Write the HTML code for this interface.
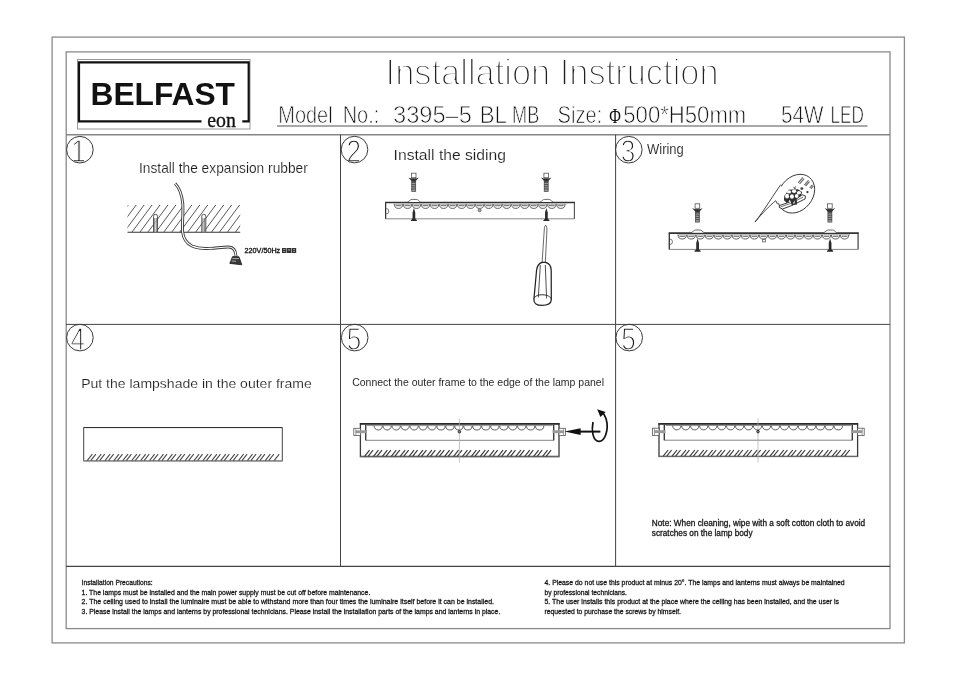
<!DOCTYPE html>
<html><head><meta charset="utf-8"><title>Installation Instruction</title>
<style>
html,body{margin:0;padding:0;background:#fff;}
body{width:959px;height:677px;overflow:hidden;font-family:"Liberation Sans",sans-serif;}
svg{display:block;position:absolute;left:0;top:0;will-change:transform;filter:grayscale(1);}
svg text{font-family:"Liberation Sans",sans-serif;}
svg text.serif{font-family:"Liberation Serif",serif;}
</style></head><body>
<svg width="959" height="677" viewBox="0 0 959 677">
<rect width="959" height="677" fill="#fff"/>
<rect x="52.1" y="37.1" width="852.3" height="605.8" fill="none" stroke="#8a8a8a" stroke-width="1.3"/>
<rect x="66.2" y="51.9" width="823.8" height="576.7" fill="none" stroke="#8a8a8a" stroke-width="1.3"/>
<line x1="66" y1="134.7" x2="890" y2="134.7" stroke="#858585" stroke-width="1.6"/>
<line x1="66" y1="324.4" x2="890" y2="324.4" stroke="#444" stroke-width="1"/>
<line x1="66" y1="566.4" x2="890" y2="566.4" stroke="#444" stroke-width="1.2"/>
<line x1="340.5" y1="134.6" x2="340.5" y2="566.4" stroke="#444" stroke-width="1"/>
<line x1="615.6" y1="134.6" x2="615.6" y2="566.4" stroke="#444" stroke-width="1"/>
<rect x="77.5" y="59.5" width="172.5" height="69.5" fill="none" stroke="#999" stroke-width="1"/>
<path d="M201.5 121.3 H79 V62.3 H248.7 V121.3 H242.3" fill="none" stroke="#111" stroke-width="2.2"/>
<text x="90.5" y="105" font-family="Liberation Sans" font-weight="bold" font-size="30.5" textLength="144.5" lengthAdjust="spacingAndGlyphs" fill="#111">BELFAST</text>
<text x="207.2" y="126.5" class="serif" font-size="21.3" stroke="#111" stroke-width="0.35" textLength="28.6" lengthAdjust="spacingAndGlyphs" fill="#111">eon</text>
<text x="385.6" y="85.2" font-size="36.2" textLength="333" lengthAdjust="spacingAndGlyphs" stroke="#fff" stroke-width="1.8" fill="#222" font-weight="normal" text-anchor="start">Installation Instruction</text>
<text x="278.3" y="123.2" font-size="24.5" textLength="54.3" lengthAdjust="spacingAndGlyphs" stroke="#fff" stroke-width="0.75" fill="#141414" font-weight="normal" text-anchor="start">Model</text>
<text x="342.7" y="123.2" font-size="24.5" textLength="36.6" lengthAdjust="spacingAndGlyphs" stroke="#fff" stroke-width="0.75" fill="#141414" font-weight="normal" text-anchor="start">No.:</text>
<text x="393.0" y="123.2" font-size="24.5" textLength="78.9" lengthAdjust="spacingAndGlyphs" stroke="#fff" stroke-width="0.75" fill="#141414" font-weight="normal" text-anchor="start">3395–5</text>
<text x="479.7" y="123.2" font-size="24.5" textLength="27.2" lengthAdjust="spacingAndGlyphs" stroke="#fff" stroke-width="0.75" fill="#141414" font-weight="normal" text-anchor="start">BL</text>
<text x="512.1" y="123.2" font-size="24.5" textLength="27.2" lengthAdjust="spacingAndGlyphs" stroke="#fff" stroke-width="0.75" fill="#141414" font-weight="normal" text-anchor="start">MB</text>
<text x="557.6" y="123.2" font-size="24.5" textLength="44.6" lengthAdjust="spacingAndGlyphs" stroke="#fff" stroke-width="0.75" fill="#141414" font-weight="normal" text-anchor="start">Size:</text>
<text x="623.3" y="123.2" font-size="24.5" textLength="123.0" lengthAdjust="spacingAndGlyphs" stroke="#fff" stroke-width="0.75" fill="#141414" font-weight="normal" text-anchor="start">500*H50mm</text>
<text x="781.0" y="123.2" font-size="24.5" textLength="42.5" lengthAdjust="spacingAndGlyphs" stroke="#fff" stroke-width="0.75" fill="#141414" font-weight="normal" text-anchor="start">54W</text>
<text x="830.5" y="123.2" font-size="24.5" textLength="33.5" lengthAdjust="spacingAndGlyphs" stroke="#fff" stroke-width="0.75" fill="#141414" font-weight="normal" text-anchor="start">LED</text>
<text class="serif" x="609.3" y="122.6" font-size="21.5" textLength="11.6" lengthAdjust="spacingAndGlyphs" fill="#111">Φ</text>
<line x1="277" y1="126" x2="867.5" y2="126" stroke="#555" stroke-width="1.2"/>
<text x="139.0" y="173.2" font-size="14.3" textLength="168.8" lengthAdjust="spacingAndGlyphs" stroke="#fff" stroke-width="0.15" fill="#1e1e1e" font-weight="normal" text-anchor="start">Install the expansion rubber</text>
<text x="393.6" y="160.2" font-size="15.3" textLength="112.4" lengthAdjust="spacingAndGlyphs" stroke="#fff" stroke-width="0.15" fill="#1e1e1e" font-weight="normal" text-anchor="start">Install the siding</text>
<text x="647.0" y="154.2" font-size="14.3" textLength="36.8" lengthAdjust="spacingAndGlyphs" stroke="#fff" stroke-width="0.1" fill="#1e1e1e" font-weight="normal" text-anchor="start">Wiring</text>
<text x="81.2" y="387.5" font-size="13.6" textLength="230.6" lengthAdjust="spacingAndGlyphs" stroke="#fff" stroke-width="0.15" fill="#1e1e1e" font-weight="normal" text-anchor="start">Put the lampshade in the outer frame</text>
<text x="352.2" y="386" font-size="11.5" textLength="251.8" lengthAdjust="spacingAndGlyphs" fill="#2a2a2a" font-weight="normal" text-anchor="start">Connect the outer frame to the edge of the lamp panel</text>
<text x="651.8" y="525.6" font-size="8.8" textLength="213.4" lengthAdjust="spacingAndGlyphs" stroke="#161616" stroke-width="0.3" fill="#161616" font-weight="normal" text-anchor="start">Note: When cleaning, wipe with a soft cotton cloth to avoid</text>
<text x="651.8" y="536.4" font-size="8.8" textLength="100.7" lengthAdjust="spacingAndGlyphs" stroke="#161616" stroke-width="0.3" fill="#161616" font-weight="normal" text-anchor="start">scratches on the lamp body</text>
<text x="81.6" y="584.8" font-size="7.2" textLength="71" lengthAdjust="spacingAndGlyphs" stroke="#161616" stroke-width="0.28" fill="#161616" font-weight="normal" text-anchor="start">Installation Precautions:</text>
<text x="81.6" y="594.5" font-size="7.2" textLength="288.7" lengthAdjust="spacingAndGlyphs" stroke="#161616" stroke-width="0.28" fill="#161616" font-weight="normal" text-anchor="start">1. The lamps must be installed and the main power supply must be cut off before maintenance.</text>
<text x="81.6" y="604.4" font-size="7.2" textLength="412.4" lengthAdjust="spacingAndGlyphs" stroke="#161616" stroke-width="0.28" fill="#161616" font-weight="normal" text-anchor="start">2. The ceiling used to install the luminaire must be able to withstand more than four times the luminaire itself before it can be installed.</text>
<text x="81.6" y="614.2" font-size="7.2" textLength="418.7" lengthAdjust="spacingAndGlyphs" stroke="#161616" stroke-width="0.28" fill="#161616" font-weight="normal" text-anchor="start">3. Please install the lamps and lanterns by professional technicians. Please install the installation parts of the lamps and lanterns in place.</text>
<text x="544.5" y="584.8" font-size="7.2" textLength="300.2" lengthAdjust="spacingAndGlyphs" stroke="#161616" stroke-width="0.28" fill="#161616" font-weight="normal" text-anchor="start">4. Please do not use this product at minus 20°. The lamps and lanterns must always be maintained</text>
<text x="544.5" y="594.5" font-size="7.2" textLength="82.4" lengthAdjust="spacingAndGlyphs" stroke="#161616" stroke-width="0.28" fill="#161616" font-weight="normal" text-anchor="start">by professional technicians.</text>
<text x="544.5" y="604.4" font-size="7.2" textLength="294.5" lengthAdjust="spacingAndGlyphs" stroke="#161616" stroke-width="0.28" fill="#161616" font-weight="normal" text-anchor="start">5. The user installs this product at the place where the ceiling has been installed, and the user is</text>
<text x="544.5" y="614.2" font-size="7.2" textLength="136.5" lengthAdjust="spacingAndGlyphs" stroke="#161616" stroke-width="0.28" fill="#161616" font-weight="normal" text-anchor="start">requested to purchase the screws by himself.</text>
<text x="78.60000000000001" y="161.89999999999998" font-size="30.5" textLength="14.6" lengthAdjust="spacingAndGlyphs" text-anchor="middle" fill="#1a1a1a" stroke="#fff" stroke-width="1.3">1</text>
<circle cx="79.9" cy="149.7" r="13.3" fill="none" stroke="#3a3a3a" stroke-width="1"/>
<text x="353.8" y="161.79999999999998" font-size="30.5" textLength="14.6" lengthAdjust="spacingAndGlyphs" text-anchor="middle" fill="#1a1a1a" stroke="#fff" stroke-width="1.3">2</text>
<circle cx="354.5" cy="149.6" r="13.3" fill="none" stroke="#3a3a3a" stroke-width="1"/>
<text x="628.0999999999999" y="161.89999999999998" font-size="30.5" textLength="14.6" lengthAdjust="spacingAndGlyphs" text-anchor="middle" fill="#1a1a1a" stroke="#fff" stroke-width="1.3">3</text>
<circle cx="628.8" cy="149.7" r="13.3" fill="none" stroke="#3a3a3a" stroke-width="1"/>
<text x="77.7" y="349.8" font-size="30.5" textLength="14.6" lengthAdjust="spacingAndGlyphs" text-anchor="middle" fill="#1a1a1a" stroke="#fff" stroke-width="1.3">4</text>
<circle cx="79.9" cy="337.6" r="13.3" fill="none" stroke="#3a3a3a" stroke-width="1"/>
<text x="354.0" y="349.8" font-size="30.5" textLength="14.6" lengthAdjust="spacingAndGlyphs" text-anchor="middle" fill="#1a1a1a" stroke="#fff" stroke-width="1.3">5</text>
<circle cx="354.7" cy="337.6" r="13.3" fill="none" stroke="#3a3a3a" stroke-width="1"/>
<text x="628.5" y="349.8" font-size="30.5" textLength="14.6" lengthAdjust="spacingAndGlyphs" text-anchor="middle" fill="#1a1a1a" stroke="#fff" stroke-width="1.3">5</text>
<circle cx="629.2" cy="337.6" r="13.3" fill="none" stroke="#3a3a3a" stroke-width="1"/>
<clipPath id="c1"><rect x="127.5" y="204.8" width="112.69999999999999" height="27.5"/></clipPath>
<path clip-path="url(#c1)" d="M128.31 204.8 L107.98 232.3 M136.27 204.8 L115.94 232.3 M144.23 204.8 L123.90 232.3 M152.18 204.8 L131.85 232.3 M160.14 204.8 L139.81 232.3 M168.10 204.8 L147.77 232.3 M176.06 204.8 L155.73 232.3 M184.01 204.8 L163.68 232.3 M191.97 204.8 L171.64 232.3 M199.93 204.8 L179.60 232.3 M207.88 204.8 L187.55 232.3 M215.84 204.8 L195.51 232.3 M223.80 204.8 L203.47 232.3 M231.75 204.8 L211.42 232.3 M239.71 204.8 L219.38 232.3 M247.67 204.8 L227.34 232.3 M255.62 204.8 L235.30 232.3 M263.58 204.8 L243.25 232.3" stroke="#444" stroke-width="0.9" fill="none"/>
<line x1="127.5" y1="232.3" x2="240.2" y2="232.3" stroke="#333" stroke-width="1.1"/>
<path d="M153.5 232.3 V216.3 a2 2 0 0 1 4 0 V232.3" fill="#fff" fill-opacity="0.55" stroke="#444" stroke-width="0.9"/>
<path d="M154.7 218 V232.3 M156.3 218 V232.3" stroke="#555" stroke-width="0.7" fill="none"/>
<path d="M201.8 232.3 V216.3 a2 2 0 0 1 4 0 V232.3" fill="#fff" fill-opacity="0.55" stroke="#444" stroke-width="0.9"/>
<path d="M203.0 218 V232.3 M204.60000000000002 218 V232.3" stroke="#555" stroke-width="0.7" fill="none"/>
<path d="M175.2 183.6 C179.5 188 182 195 182.8 204 C183.4 214 182 224 182.6 231.6 C183.2 238 186 243 192 246 C198 248.6 204 248.8 210 248.4 C218 247.8 224 246.9 228.6 247 C233.2 247.1 235.8 249.5 236 256.5" fill="none" stroke="#383838" stroke-width="2.9"/>
<path d="M175.2 183.6 C179.5 188 182 195 182.8 204 C183.4 214 182 224 182.6 231.6 C183.2 238 186 243 192 246 C198 248.6 204 248.8 210 248.4 C218 247.8 224 246.9 228.6 247 C233.2 247.1 235.8 249.5 236 256.5" fill="none" stroke="#fff" stroke-width="1.1"/>
<path d="M232.6 256.6 L239 256.8 L241.8 264.8 L229.8 263.4 Z" fill="#3a3a3a" stroke="#1a1a1a" stroke-width="0.8" stroke-linejoin="round"/>
<path d="M232.4 258.6 H239 M231.6 261 L236 261.3" stroke="#ddd" stroke-width="0.7"/>
<text x="244.6" y="253" font-size="6.8" textLength="35.6" lengthAdjust="spacingAndGlyphs" fill="#111" stroke="#111" stroke-width="0.3">220V/50Hz</text>
<path d="M282 248h4.4v4.9h-4.4z M286.9 248h4.4v4.9h-4.4z M291.8 248h4.4v4.9h-4.4z" fill="#333"/><path d="M283.2 249.3h2v0.8h-2z M288.1 249.6h2v0.8h-2z M293 249.3h2v0.8h-2z M283.2 251.1h2v0.7h-2z M293 251.3h2v0.7h-2z" fill="#bbb"/>
<path d="M385.6 202.1 V218.79999999999998 H574.4000000000001 V202.1" fill="none" stroke="#888" stroke-width="1"/>
<line x1="385.6" y1="202.1" x2="385.6" y2="218.79999999999998" stroke="#333" stroke-width="1.2"/>
<line x1="574.4000000000001" y1="202.1" x2="574.4000000000001" y2="218.79999999999998" stroke="#555" stroke-width="1"/>
<line x1="385.1" y1="202.5" x2="574.9000000000001" y2="202.5" stroke="#333" stroke-width="1.7"/>
<line x1="393.6" y1="204.2" x2="566.4000000000001" y2="204.2" stroke="#777" stroke-width="0.7"/>
<path d="M394.40 204.4 a4.1 4.0 0 0 0 8.2 0 M395.70 205.7 h5.6 M403.42 204.4 a4.1 4.0 0 0 0 8.2 0 M404.72 205.7 h5.6 M412.44 204.4 a4.1 4.0 0 0 0 8.2 0 M413.74 205.7 h5.6 M421.46 204.4 a4.1 4.0 0 0 0 8.2 0 M422.76 205.7 h5.6 M430.48 204.4 a4.1 4.0 0 0 0 8.2 0 M431.78 205.7 h5.6 M439.50 204.4 a4.1 4.0 0 0 0 8.2 0 M440.80 205.7 h5.6 M448.52 204.4 a4.1 4.0 0 0 0 8.2 0 M449.82 205.7 h5.6 M457.54 204.4 a4.1 4.0 0 0 0 8.2 0 M458.84 205.7 h5.6 M466.56 204.4 a4.1 4.0 0 0 0 8.2 0 M467.86 205.7 h5.6 M475.58 204.4 a4.1 4.0 0 0 0 8.2 0 M476.88 205.7 h5.6 M484.60 204.4 a4.1 4.0 0 0 0 8.2 0 M485.90 205.7 h5.6 M493.62 204.4 a4.1 4.0 0 0 0 8.2 0 M494.92 205.7 h5.6 M502.64 204.4 a4.1 4.0 0 0 0 8.2 0 M503.94 205.7 h5.6 M511.66 204.4 a4.1 4.0 0 0 0 8.2 0 M512.96 205.7 h5.6 M520.68 204.4 a4.1 4.0 0 0 0 8.2 0 M521.98 205.7 h5.6 M529.70 204.4 a4.1 4.0 0 0 0 8.2 0 M531.00 205.7 h5.6 M538.72 204.4 a4.1 4.0 0 0 0 8.2 0 M540.02 205.7 h5.6 M547.74 204.4 a4.1 4.0 0 0 0 8.2 0 M549.04 205.7 h5.6 M556.76 204.4 a4.1 4.0 0 0 0 8.2 0 M558.06 205.7 h5.6" fill="none" stroke="#444" stroke-width="0.85"/>
<path d="M407.50000000000006 202.1 C409.70000000000005 201.1 410.20000000000005 199.4 412.20000000000005 199.4 H416.20000000000005 C418.20000000000005 199.4 418.70000000000005 201.1 420.50000000000006 202.1" fill="#fff" stroke="#444" stroke-width="0.8"/>
<rect x="411.70000000000005" y="178.79999999999998" width="4.0" height="12.7" fill="#9a9a9a" stroke="#444" stroke-width="0.7"/>
<path d="M411.70000000000005 182.39999999999998h4 M411.70000000000005 184.6h4 M411.70000000000005 186.79999999999998h4 M411.70000000000005 189.0h4" stroke="#333" stroke-width="0.75"/>
<path d="M408.40000000000003 177.39999999999998 L412.30000000000007 181.79999999999998 H415.1 L419.00000000000006 177.39999999999998 L416.00000000000006 178.6 H411.40000000000003 Z" fill="#333"/>
<rect x="411.40000000000003" y="173.2" width="4.6" height="4.5" fill="#fff" stroke="#555" stroke-width="0.8"/>
<path d="M413.90000000000003 208.0 L415.25000000000006 212.5 V218.6 L417.00000000000006 220.4 V221.1 H410.8 V220.4 L412.55 218.6 V212.5 Z" fill="#2a2a2a"/>
<path d="M540.0 202.1 C542.2 201.1 542.7 199.4 544.7 199.4 H548.7 C550.7 199.4 551.2 201.1 553.0 202.1" fill="#fff" stroke="#444" stroke-width="0.8"/>
<rect x="544.2" y="178.79999999999998" width="4.0" height="12.7" fill="#9a9a9a" stroke="#444" stroke-width="0.7"/>
<path d="M544.2 182.39999999999998h4 M544.2 184.6h4 M544.2 186.79999999999998h4 M544.2 189.0h4" stroke="#333" stroke-width="0.75"/>
<path d="M540.9000000000001 177.39999999999998 L544.8000000000001 181.79999999999998 H547.6 L551.5 177.39999999999998 L548.5 178.6 H543.9000000000001 Z" fill="#333"/>
<rect x="543.9000000000001" y="173.2" width="4.6" height="4.5" fill="#fff" stroke="#555" stroke-width="0.8"/>
<path d="M546.4000000000001 208.0 L547.7500000000001 212.5 V218.6 L549.5000000000001 220.4 V221.1 H543.3000000000001 V220.4 L545.0500000000001 218.6 V212.5 Z" fill="#2a2a2a"/>
<path d="M386.20000000000005 208.5 a2.6 2.7 0 0 1 0 5.4" fill="none" stroke="#555" stroke-width="0.8"/>
<circle cx="479.6" cy="210.29999999999998" r="1.5" fill="#aaa" stroke="#555" stroke-width="0.7"/>
<path d="M669.3 232.7 V249.39999999999998 H858.0999999999999 V232.7" fill="none" stroke="#888" stroke-width="1"/>
<line x1="669.3" y1="232.7" x2="669.3" y2="249.39999999999998" stroke="#333" stroke-width="1.2"/>
<line x1="858.0999999999999" y1="232.7" x2="858.0999999999999" y2="249.39999999999998" stroke="#555" stroke-width="1"/>
<line x1="668.8" y1="233.1" x2="858.5999999999999" y2="233.1" stroke="#333" stroke-width="1.7"/>
<line x1="677.3" y1="234.79999999999998" x2="850.0999999999999" y2="234.79999999999998" stroke="#777" stroke-width="0.7"/>
<path d="M678.10 235.0 a4.1 4.0 0 0 0 8.2 0 M679.40 236.29999999999998 h5.6 M687.12 235.0 a4.1 4.0 0 0 0 8.2 0 M688.42 236.29999999999998 h5.6 M696.14 235.0 a4.1 4.0 0 0 0 8.2 0 M697.44 236.29999999999998 h5.6 M705.16 235.0 a4.1 4.0 0 0 0 8.2 0 M706.46 236.29999999999998 h5.6 M714.18 235.0 a4.1 4.0 0 0 0 8.2 0 M715.48 236.29999999999998 h5.6 M723.20 235.0 a4.1 4.0 0 0 0 8.2 0 M724.50 236.29999999999998 h5.6 M732.22 235.0 a4.1 4.0 0 0 0 8.2 0 M733.52 236.29999999999998 h5.6 M741.24 235.0 a4.1 4.0 0 0 0 8.2 0 M742.54 236.29999999999998 h5.6 M750.26 235.0 a4.1 4.0 0 0 0 8.2 0 M751.56 236.29999999999998 h5.6 M759.28 235.0 a4.1 4.0 0 0 0 8.2 0 M760.58 236.29999999999998 h5.6 M768.30 235.0 a4.1 4.0 0 0 0 8.2 0 M769.60 236.29999999999998 h5.6 M777.32 235.0 a4.1 4.0 0 0 0 8.2 0 M778.62 236.29999999999998 h5.6 M786.34 235.0 a4.1 4.0 0 0 0 8.2 0 M787.64 236.29999999999998 h5.6 M795.36 235.0 a4.1 4.0 0 0 0 8.2 0 M796.66 236.29999999999998 h5.6 M804.38 235.0 a4.1 4.0 0 0 0 8.2 0 M805.68 236.29999999999998 h5.6 M813.40 235.0 a4.1 4.0 0 0 0 8.2 0 M814.70 236.29999999999998 h5.6 M822.42 235.0 a4.1 4.0 0 0 0 8.2 0 M823.72 236.29999999999998 h5.6 M831.44 235.0 a4.1 4.0 0 0 0 8.2 0 M832.74 236.29999999999998 h5.6 M840.46 235.0 a4.1 4.0 0 0 0 8.2 0 M841.76 236.29999999999998 h5.6" fill="none" stroke="#444" stroke-width="0.85"/>
<path d="M691.1999999999999 232.7 C693.4 231.7 693.9 230.0 695.9 230.0 H699.9 C701.9 230.0 702.4 231.7 704.1999999999999 232.7" fill="#fff" stroke="#444" stroke-width="0.8"/>
<rect x="695.4" y="209.39999999999998" width="4.0" height="12.7" fill="#9a9a9a" stroke="#444" stroke-width="0.7"/>
<path d="M695.4 212.99999999999997h4 M695.4 215.2h4 M695.4 217.39999999999998h4 M695.4 219.6h4" stroke="#333" stroke-width="0.75"/>
<path d="M692.1 207.99999999999997 L696.0 212.39999999999998 H698.8 L702.6999999999999 207.99999999999997 L699.6999999999999 209.2 H695.1 Z" fill="#333"/>
<rect x="695.1" y="203.79999999999998" width="4.6" height="4.5" fill="#fff" stroke="#555" stroke-width="0.8"/>
<path d="M697.6 238.6 L698.95 243.1 V249.2 L700.7 251.0 V251.7 H694.5 V251.0 L696.25 249.2 V243.1 Z" fill="#2a2a2a"/>
<path d="M823.6999999999999 232.7 C825.9 231.7 826.4 230.0 828.4 230.0 H832.4 C834.4 230.0 834.9 231.7 836.6999999999999 232.7" fill="#fff" stroke="#444" stroke-width="0.8"/>
<rect x="827.9" y="209.39999999999998" width="4.0" height="12.7" fill="#9a9a9a" stroke="#444" stroke-width="0.7"/>
<path d="M827.9 212.99999999999997h4 M827.9 215.2h4 M827.9 217.39999999999998h4 M827.9 219.6h4" stroke="#333" stroke-width="0.75"/>
<path d="M824.6 207.99999999999997 L828.5 212.39999999999998 H831.3 L835.1999999999999 207.99999999999997 L832.1999999999999 209.2 H827.6 Z" fill="#333"/>
<rect x="827.6" y="203.79999999999998" width="4.6" height="4.5" fill="#fff" stroke="#555" stroke-width="0.8"/>
<path d="M830.1 238.6 L831.45 243.1 V249.2 L833.2 251.0 V251.7 H827.0 V251.0 L828.75 249.2 V243.1 Z" fill="#2a2a2a"/>
<path d="M669.9 239.1 a2.6 2.7 0 0 1 0 5.4" fill="none" stroke="#555" stroke-width="0.8"/>
<rect x="762.6999999999999" y="239.29999999999998" width="2.6" height="2.6" fill="#fff" stroke="#444" stroke-width="0.7"/>
<path d="M545.6 225.2 C544.6 226 544.3 228 544.2 231 L542.1 262.6 H545.3 L546.9 231 C547 228 546.6 226 545.6 225.2 Z" fill="#fff" stroke="#444" stroke-width="0.8"/>
<path d="M542 262.4 C538.5 263.5 537.2 266 536.6 270 L533.9 299.5 C533.6 303.5 537 305.3 542 305.3 C547 305.3 551 303.6 551.3 300 L551.2 270 C551 266 549.5 263.4 545.5 262.4 Z" fill="#fff" stroke="#222" stroke-width="1.25"/>
<path d="M540.3 265 L538.3 297.5 M545.3 265 L546.6 298.5" fill="none" stroke="#3a3a3a" stroke-width="0.9"/>
<path d="M534 298.6 C535 295.6 539 294.6 543 294.8 C547.5 295 551 296.6 551.3 299.6" fill="none" stroke="#2a2a2a" stroke-width="1"/>
<g transform="translate(796.2,193.7) rotate(-51)"><ellipse rx="21" ry="16.6" fill="#fff" stroke="#333" stroke-width="0.9"/></g>
<path d="M780.76 184.65 L755.00 222.10 L775.69 200.69 L777.65 204.31 L783.45 196.03 Z" fill="#fff"/>
<path d="M780.76 184.65 C775.17 192.41 764.31 210.00 755.00 222.10 C761.72 213.62 770.00 205.34 775.69 200.69 L777.65 204.31" fill="none" stroke="#333" stroke-width="0.9" stroke-linejoin="round"/>
<path d="M798.14 182.79 L802.89 177.41 M799.58 183.83 L804.14 178.65 M804.34 185.07 L808.48 180.31 M805.58 186.00 L809.51 181.55 M809.72 187.96 L812.41 184.86 M810.96 188.79 L813.45 185.90" stroke="#6a6a6a" stroke-width="1.15" fill="none"/>
<circle cx="801.86" cy="188.59" r="1.45" fill="#444"/>
<circle cx="807.45" cy="192.10" r="1.15" fill="#333"/>
<path d="M793.27 187.24 L795.86 188.59 M795.86 186.21 L794.00 189.00" stroke="#333" stroke-width="0.7"/>
<path d="M779.31 205.55 L788.62 202.45 L802.27 194.79 L805.38 196.03 L805.17 198.93 L791.72 205.55 L782.41 209.07 L779.31 207.41 Z" fill="#fff" stroke="#222" stroke-width="0.9" stroke-linejoin="round"/>
<path d="M780.55 206.90 L789.65 203.79 L803.10 197.07" fill="none" stroke="#333" stroke-width="0.7"/>
<path d="M784.27 196.03 L788.62 189.83 L797.93 189.31 L802.07 192.10 L801.03 196.03 L796.69 199.14 L797.10 204.52 L791.72 205.14 L790.48 201.21 L786.76 203.07 L783.96 200.17 Z" fill="#303030"/>
<ellipse cx="789.03" cy="191.90" rx="2.17" ry="1.66" fill="#fff"/>
<ellipse cx="794.10" cy="191.27" rx="2.17" ry="1.66" fill="#fff"/>
<ellipse cx="798.96" cy="192.72" rx="2.07" ry="1.66" fill="#fff"/>
<ellipse cx="787.07" cy="196.14" rx="1.97" ry="2.28" fill="#fff"/>
<ellipse cx="791.93" cy="196.55" rx="1.97" ry="2.28" fill="#fff"/>
<ellipse cx="796.69" cy="196.03" rx="1.86" ry="1.97" fill="#fff"/>
<path d="M789.45 199.65 L788.62 202.03 L790.89 201.41 Z M794.62 200.17 L794.62 203.48 L792.96 203.48 Z" fill="#fff"/>
<path d="M83.7 427.6 H282.3 V460.9 H83.7 Z" fill="none" stroke="#444" stroke-width="1"/>
<line x1="83.7" y1="427.5" x2="282.3" y2="427.5" stroke="#333" stroke-width="1.2"/>
<line x1="83" y1="461.2" x2="283" y2="461.2" stroke="#999" stroke-width="0.8"/>
<path d="M87.20 460.6 L92.32 454.2 M90.70 460.6 L95.82 454.2 M96.10 460.6 L101.22 454.2 M99.60 460.6 L104.72 454.2 M105.00 460.6 L110.12 454.2 M108.50 460.6 L113.62 454.2 M113.90 460.6 L119.02 454.2 M117.40 460.6 L122.52 454.2 M122.80 460.6 L127.92 454.2 M126.30 460.6 L131.42 454.2 M131.70 460.6 L136.82 454.2 M135.20 460.6 L140.32 454.2 M140.60 460.6 L145.72 454.2 M144.10 460.6 L149.22 454.2 M149.50 460.6 L154.62 454.2 M153.00 460.6 L158.12 454.2 M158.40 460.6 L163.52 454.2 M161.90 460.6 L167.02 454.2 M167.30 460.6 L172.42 454.2 M170.80 460.6 L175.92 454.2 M176.20 460.6 L181.32 454.2 M179.70 460.6 L184.82 454.2 M185.10 460.6 L190.22 454.2 M188.60 460.6 L193.72 454.2 M194.00 460.6 L199.12 454.2 M197.50 460.6 L202.62 454.2 M202.90 460.6 L208.02 454.2 M206.40 460.6 L211.52 454.2 M211.80 460.6 L216.92 454.2 M215.30 460.6 L220.42 454.2 M220.70 460.6 L225.82 454.2 M224.20 460.6 L229.32 454.2 M229.60 460.6 L234.72 454.2 M233.10 460.6 L238.22 454.2 M238.50 460.6 L243.62 454.2 M242.00 460.6 L247.12 454.2 M247.40 460.6 L252.52 454.2 M250.90 460.6 L256.02 454.2 M256.30 460.6 L261.42 454.2 M259.80 460.6 L264.92 454.2 M265.20 460.6 L270.32 454.2 M268.70 460.6 L273.82 454.2 M274.10 460.6 L279.22 454.2" fill="none" stroke="#4a4a4a" stroke-width="1.1"/>
<path d="M360.4 423.7 H559.0 V456.5 H360.4 Z" fill="none" stroke="#3a3a3a" stroke-width="1.3"/>
<line x1="359.9" y1="423.9" x2="559.5" y2="423.9" stroke="#2a2a2a" stroke-width="1.7"/>
<line x1="359.79999999999995" y1="456.9" x2="559.6" y2="456.9" stroke="#999" stroke-width="0.7"/>
<path d="M365.7 424.7 V440.3 H553.7 V424.7" fill="none" stroke="#777" stroke-width="0.9"/>
<line x1="365.7" y1="424.7" x2="365.7" y2="440.3" stroke="#333" stroke-width="1.2"/>
<line x1="553.7" y1="424.7" x2="553.7" y2="440.3" stroke="#333" stroke-width="1.2"/>
<line x1="367.0" y1="425.59999999999997" x2="552.7" y2="425.59999999999997" stroke="#666" stroke-width="0.7"/>
<path d="M374.05 425.9 a4.15 4.1 0 0 0 8.3 0 M383.02 425.9 a4.15 4.1 0 0 0 8.3 0 M391.99 425.9 a4.15 4.1 0 0 0 8.3 0 M400.96 425.9 a4.15 4.1 0 0 0 8.3 0 M409.93 425.9 a4.15 4.1 0 0 0 8.3 0 M418.90 425.9 a4.15 4.1 0 0 0 8.3 0 M427.87 425.9 a4.15 4.1 0 0 0 8.3 0 M436.84 425.9 a4.15 4.1 0 0 0 8.3 0 M445.81 425.9 a4.15 4.1 0 0 0 8.3 0 M454.78 425.9 a4.15 4.1 0 0 0 8.3 0 M463.75 425.9 a4.15 4.1 0 0 0 8.3 0 M472.72 425.9 a4.15 4.1 0 0 0 8.3 0 M481.69 425.9 a4.15 4.1 0 0 0 8.3 0 M490.66 425.9 a4.15 4.1 0 0 0 8.3 0 M499.63 425.9 a4.15 4.1 0 0 0 8.3 0 M508.60 425.9 a4.15 4.1 0 0 0 8.3 0 M517.57 425.9 a4.15 4.1 0 0 0 8.3 0 M526.54 425.9 a4.15 4.1 0 0 0 8.3 0 M535.51 425.9 a4.15 4.1 0 0 0 8.3 0" fill="none" stroke="#444" stroke-width="0.85"/>
<path d="M364.60 456.3 L369.56 450.09999999999997 M368.10 456.3 L373.06 450.09999999999997 M373.50 456.3 L378.46 450.09999999999997 M377.00 456.3 L381.96 450.09999999999997 M382.40 456.3 L387.36 450.09999999999997 M385.90 456.3 L390.86 450.09999999999997 M391.30 456.3 L396.26 450.09999999999997 M394.80 456.3 L399.76 450.09999999999997 M400.20 456.3 L405.16 450.09999999999997 M403.70 456.3 L408.66 450.09999999999997 M409.10 456.3 L414.06 450.09999999999997 M412.60 456.3 L417.56 450.09999999999997 M418.00 456.3 L422.96 450.09999999999997 M421.50 456.3 L426.46 450.09999999999997 M426.90 456.3 L431.86 450.09999999999997 M430.40 456.3 L435.36 450.09999999999997 M435.80 456.3 L440.76 450.09999999999997 M439.30 456.3 L444.26 450.09999999999997 M444.70 456.3 L449.66 450.09999999999997 M448.20 456.3 L453.16 450.09999999999997 M453.60 456.3 L458.56 450.09999999999997 M457.10 456.3 L462.06 450.09999999999997 M462.50 456.3 L467.46 450.09999999999997 M466.00 456.3 L470.96 450.09999999999997 M471.40 456.3 L476.36 450.09999999999997 M474.90 456.3 L479.86 450.09999999999997 M480.30 456.3 L485.26 450.09999999999997 M483.80 456.3 L488.76 450.09999999999997 M489.20 456.3 L494.16 450.09999999999997 M492.70 456.3 L497.66 450.09999999999997 M498.10 456.3 L503.06 450.09999999999997 M501.60 456.3 L506.56 450.09999999999997 M507.00 456.3 L511.96 450.09999999999997 M510.50 456.3 L515.46 450.09999999999997 M515.90 456.3 L520.86 450.09999999999997 M519.40 456.3 L524.36 450.09999999999997 M524.80 456.3 L529.76 450.09999999999997 M528.30 456.3 L533.26 450.09999999999997 M533.70 456.3 L538.66 450.09999999999997 M537.20 456.3 L542.16 450.09999999999997 M542.60 456.3 L547.56 450.09999999999997 M546.10 456.3 L551.06 450.09999999999997" fill="none" stroke="#3c3c3c" stroke-width="1.2"/>
<line x1="459.4" y1="418.7" x2="459.4" y2="462.5" stroke="#aaa" stroke-width="0.7"/>
<circle cx="459.4" cy="431.7" r="1.3" fill="#888" stroke="#222" stroke-width="0.9"/>
<rect x="353.79999999999995" y="428.3" width="6.6" height="7.2" fill="#fff" stroke="#555" stroke-width="0.8"/>
<rect x="559.0" y="428.3" width="6.6" height="7.2" fill="#fff" stroke="#555" stroke-width="0.8"/>
<rect x="355.9" y="430.3" width="11" height="2.9" fill="#999"/>
<rect x="552.5" y="430.3" width="11" height="2.9" fill="#999"/>
<line x1="355.79999999999995" y1="428.3" x2="355.79999999999995" y2="435.5" stroke="#777" stroke-width="0.7"/>
<line x1="563.6" y1="428.3" x2="563.6" y2="435.5" stroke="#777" stroke-width="0.7"/>
<path d="M659.0 423.6 H857.6 V456.40000000000003 H659.0 Z" fill="none" stroke="#3a3a3a" stroke-width="1.3"/>
<line x1="658.5" y1="423.8" x2="858.1" y2="423.8" stroke="#2a2a2a" stroke-width="1.7"/>
<line x1="658.4" y1="456.8" x2="858.2" y2="456.8" stroke="#999" stroke-width="0.7"/>
<path d="M664.3 424.6 V440.20000000000005 H852.3000000000001 V424.6" fill="none" stroke="#777" stroke-width="0.9"/>
<line x1="664.3" y1="424.6" x2="664.3" y2="440.20000000000005" stroke="#333" stroke-width="1.2"/>
<line x1="852.3000000000001" y1="424.6" x2="852.3000000000001" y2="440.20000000000005" stroke="#333" stroke-width="1.2"/>
<line x1="665.5999999999999" y1="425.5" x2="851.3000000000001" y2="425.5" stroke="#666" stroke-width="0.7"/>
<path d="M672.65 425.8 a4.15 4.1 0 0 0 8.3 0 M681.62 425.8 a4.15 4.1 0 0 0 8.3 0 M690.59 425.8 a4.15 4.1 0 0 0 8.3 0 M699.56 425.8 a4.15 4.1 0 0 0 8.3 0 M708.53 425.8 a4.15 4.1 0 0 0 8.3 0 M717.50 425.8 a4.15 4.1 0 0 0 8.3 0 M726.47 425.8 a4.15 4.1 0 0 0 8.3 0 M735.44 425.8 a4.15 4.1 0 0 0 8.3 0 M744.41 425.8 a4.15 4.1 0 0 0 8.3 0 M753.38 425.8 a4.15 4.1 0 0 0 8.3 0 M762.35 425.8 a4.15 4.1 0 0 0 8.3 0 M771.32 425.8 a4.15 4.1 0 0 0 8.3 0 M780.29 425.8 a4.15 4.1 0 0 0 8.3 0 M789.26 425.8 a4.15 4.1 0 0 0 8.3 0 M798.23 425.8 a4.15 4.1 0 0 0 8.3 0 M807.20 425.8 a4.15 4.1 0 0 0 8.3 0 M816.17 425.8 a4.15 4.1 0 0 0 8.3 0 M825.14 425.8 a4.15 4.1 0 0 0 8.3 0 M834.11 425.8 a4.15 4.1 0 0 0 8.3 0" fill="none" stroke="#444" stroke-width="0.85"/>
<path d="M663.20 456.20000000000005 L668.16 450.0 M666.70 456.20000000000005 L671.66 450.0 M672.10 456.20000000000005 L677.06 450.0 M675.60 456.20000000000005 L680.56 450.0 M681.00 456.20000000000005 L685.96 450.0 M684.50 456.20000000000005 L689.46 450.0 M689.90 456.20000000000005 L694.86 450.0 M693.40 456.20000000000005 L698.36 450.0 M698.80 456.20000000000005 L703.76 450.0 M702.30 456.20000000000005 L707.26 450.0 M707.70 456.20000000000005 L712.66 450.0 M711.20 456.20000000000005 L716.16 450.0 M716.60 456.20000000000005 L721.56 450.0 M720.10 456.20000000000005 L725.06 450.0 M725.50 456.20000000000005 L730.46 450.0 M729.00 456.20000000000005 L733.96 450.0 M734.40 456.20000000000005 L739.36 450.0 M737.90 456.20000000000005 L742.86 450.0 M743.30 456.20000000000005 L748.26 450.0 M746.80 456.20000000000005 L751.76 450.0 M752.20 456.20000000000005 L757.16 450.0 M755.70 456.20000000000005 L760.66 450.0 M761.10 456.20000000000005 L766.06 450.0 M764.60 456.20000000000005 L769.56 450.0 M770.00 456.20000000000005 L774.96 450.0 M773.50 456.20000000000005 L778.46 450.0 M778.90 456.20000000000005 L783.86 450.0 M782.40 456.20000000000005 L787.36 450.0 M787.80 456.20000000000005 L792.76 450.0 M791.30 456.20000000000005 L796.26 450.0 M796.70 456.20000000000005 L801.66 450.0 M800.20 456.20000000000005 L805.16 450.0 M805.60 456.20000000000005 L810.56 450.0 M809.10 456.20000000000005 L814.06 450.0 M814.50 456.20000000000005 L819.46 450.0 M818.00 456.20000000000005 L822.96 450.0 M823.40 456.20000000000005 L828.36 450.0 M826.90 456.20000000000005 L831.86 450.0 M832.30 456.20000000000005 L837.26 450.0 M835.80 456.20000000000005 L840.76 450.0 M841.20 456.20000000000005 L846.16 450.0 M844.70 456.20000000000005 L849.66 450.0" fill="none" stroke="#3c3c3c" stroke-width="1.2"/>
<line x1="758.0" y1="418.6" x2="758.0" y2="462.40000000000003" stroke="#aaa" stroke-width="0.7"/>
<circle cx="758.0" cy="431.6" r="1.3" fill="#888" stroke="#222" stroke-width="0.9"/>
<rect x="652.4" y="428.20000000000005" width="6.6" height="7.2" fill="#fff" stroke="#555" stroke-width="0.8"/>
<rect x="857.6" y="428.20000000000005" width="6.6" height="7.2" fill="#fff" stroke="#555" stroke-width="0.8"/>
<rect x="654.5" y="430.20000000000005" width="11" height="2.9" fill="#999"/>
<rect x="851.1" y="430.20000000000005" width="11" height="2.9" fill="#999"/>
<line x1="654.4" y1="428.20000000000005" x2="654.4" y2="435.40000000000003" stroke="#777" stroke-width="0.7"/>
<line x1="862.2" y1="428.20000000000005" x2="862.2" y2="435.40000000000003" stroke="#777" stroke-width="0.7"/>
<line x1="572" y1="431.6" x2="600.4" y2="431.6" stroke="#111" stroke-width="2"/>
<path d="M564.6 431.6 L580.6 428.3 V434.9 Z" fill="#111"/>
<path d="M593 422 C591.4 430 592.6 440.6 598.6 441.4 C604.6 442 609.4 430 606 418.5 C605 415.5 603.6 413.4 601.8 411.6" fill="none" stroke="#111" stroke-width="1.7"/>
<path d="M597.2 409.2 L605.6 412 L600.4 417 Z" fill="#111"/>
</svg>
</body></html>
